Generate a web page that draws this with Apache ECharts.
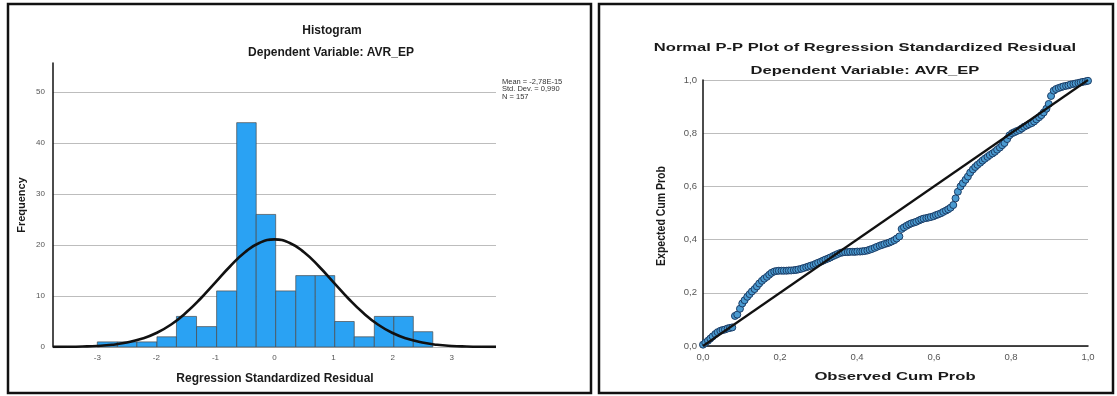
<!DOCTYPE html>
<html><head><meta charset="utf-8">
<script src="https://cdn.jsdelivr.net/npm/echarts@6/dist/echarts.min.js"></script>
<style>html,body{margin:0;padding:0;background:#fff}#c{width:1117px;height:396px}</style>
</head><body><div id="c"></div>
<script>
// ---------- Histogram data ----------
const histBinEdges = [-3.0,-2.66,-2.33,-1.99,-1.66,-1.32,-0.98,-0.64,-0.31,0.02,0.36,0.69,1.02,1.35,1.69,2.02,2.35,2.68];
const histCounts   = [1,1,1,2,6,4,11,44,26,11,14,14,5,2,6,6,3];
const histXTicks = [-3,-2,-1,0,1,2,3];
const histYTicks = [0,10,20,30,40,50];
const curveX = [-3.75,-3.5,-3.25,-3,-2.75,-2.5,-2.25,-2,-1.75,-1.5,-1.25,-1,-0.75,-0.5,-0.25,0,0.25,0.5,0.75,1,1.25,1.5,1.75,2,2.25,2.5,2.75,3,3.25,3.5,3.75];
const curveY = [0.02,0.04,0.1,0.21,0.44,0.87,1.6,2.74,4.42,6.7,9.51,12.67,15.84,18.57,20.44,21.1,20.44,18.57,15.84,12.67,9.51,6.7,4.42,2.74,1.6,0.87,0.44,0.21,0.1,0.04,0.02];
const histStats = ["Mean = -2,78E-15","Std. Dev. = 0,990","N = 157"];

// ---------- P-P plot data ----------
const ppObserved = [0.000,0.006,0.013,0.019,0.025,0.032,0.038,0.045,0.051,0.057,0.064,0.070,0.076,0.083,0.089,0.096,0.102,0.108,0.115,0.121,0.127,0.134,0.140,0.146,0.153,0.159,0.166,0.172,0.178,0.185,0.191,0.197,0.204,0.210,0.217,0.223,0.229,0.236,0.242,0.248,0.255,0.261,0.268,0.274,0.280,0.287,0.293,0.299,0.306,0.312,0.318,0.325,0.331,0.338,0.344,0.350,0.357,0.363,0.369,0.376,0.382,0.389,0.395,0.401,0.408,0.414,0.420,0.427,0.433,0.439,0.446,0.452,0.459,0.465,0.471,0.478,0.484,0.490,0.497,0.503,0.510,0.516,0.522,0.529,0.535,0.541,0.548,0.554,0.561,0.567,0.573,0.580,0.586,0.592,0.599,0.605,0.611,0.618,0.624,0.631,0.637,0.643,0.650,0.656,0.662,0.669,0.675,0.682,0.688,0.694,0.701,0.707,0.713,0.720,0.726,0.732,0.739,0.745,0.752,0.758,0.764,0.771,0.777,0.783,0.790,0.796,0.803,0.809,0.815,0.822,0.828,0.834,0.841,0.847,0.854,0.860,0.866,0.873,0.879,0.885,0.892,0.898,0.904,0.911,0.917,0.924,0.930,0.936,0.943,0.949,0.955,0.962,0.968,0.975,0.981,0.987,0.994,1.000];
const ppExpected = [0.005,0.012,0.020,0.028,0.036,0.045,0.052,0.057,0.060,0.062,0.066,0.068,0.070,0.113,0.118,0.140,0.160,0.172,0.185,0.195,0.205,0.214,0.224,0.235,0.245,0.253,0.260,0.268,0.275,0.280,0.282,0.283,0.283,0.283,0.283,0.284,0.284,0.285,0.286,0.288,0.290,0.293,0.296,0.299,0.302,0.305,0.309,0.313,0.317,0.321,0.325,0.329,0.333,0.338,0.342,0.346,0.350,0.352,0.353,0.353,0.354,0.354,0.354,0.355,0.355,0.356,0.357,0.359,0.362,0.365,0.369,0.373,0.377,0.380,0.383,0.386,0.389,0.393,0.398,0.404,0.412,0.440,0.446,0.452,0.457,0.461,0.464,0.467,0.472,0.476,0.479,0.481,0.483,0.485,0.488,0.492,0.495,0.499,0.504,0.509,0.514,0.520,0.530,0.555,0.580,0.600,0.612,0.625,0.637,0.652,0.664,0.673,0.681,0.689,0.697,0.704,0.711,0.718,0.724,0.730,0.738,0.746,0.755,0.763,0.778,0.792,0.800,0.804,0.808,0.812,0.818,0.824,0.829,0.834,0.838,0.844,0.852,0.860,0.868,0.878,0.892,0.910,0.940,0.960,0.966,0.970,0.973,0.976,0.978,0.980,0.983,0.985,0.987,0.989,0.991,0.993,0.995,0.997];
const ppTicks = [0,0.2,0.4,0.6,0.8,1.0];
const refLine = [[0,0],[1,1]];

const FONT = '"Liberation Sans", Arial, sans-serif';
const chart = echarts.init(document.getElementById('c'), null, {renderer:'canvas'});

const barData = histCounts.map((c,i)=>[histBinEdges[i], histBinEdges[i+1], c]);
const curveData = curveX.map((x,i)=>[x, curveY[i]]);
const ppData = ppObserved.map((x,i)=>[x, ppExpected[i]]);
const comma = v => v.toFixed(1).replace('.', ',');

const bold = (text, x, y, size, rot, sx, sy) => ({
  type:'text', x:x, y:y, rotation: rot||0, scaleX: sx||1, scaleY: sy||1,
  style:{text:text, font:'bold '+size+'px '+FONT, fill:'#1a1a1a', textAlign:'center', textVerticalAlign:'middle'}
});

chart.setOption({
  animation:false,
  backgroundColor:'#fff',
  textStyle:{fontFamily:FONT},
  graphic:[
    {type:'rect', shape:{x:8,y:4,width:583,height:389}, style:{fill:'none', stroke:'#111', lineWidth:2.5}},
    {type:'rect', shape:{x:599,y:4,width:514,height:389}, style:{fill:'none', stroke:'#111', lineWidth:2.5}},
    bold('Histogram', 332, 31, 12),
    bold('Dependent Variable: AVR_EP', 331, 53, 12),
    bold('Frequency', 22, 205, 11, Math.PI/2),
    bold('Regression Standardized Residual', 275, 379, 12),
    {type:'text', x:502, y:78, style:{text:histStats.join('\n'), font:'7.5px '+FONT, fill:'#333', lineHeight:7.5}},
    bold('Normal P-P Plot of Regression Standardized Residual', 865, 48, 11.5, 0, 1.44, 1),
    bold('Dependent Variable: AVR_EP', 865, 71, 11.5, 0, 1.44, 1),
    bold('Expected Cum Prob', 661, 216, 10.5, Math.PI/2, 1, 1.3),
    bold('Observed Cum Prob', 895, 377, 11.5, 0, 1.45, 1)
  ],
  grid:[
    {left:53, top:63, width:443, height:284},
    {left:703, top:80, width:385, height:266}
  ],
  xAxis:[
    {gridIndex:0, type:'value', min:-3.75, max:3.75,
     axisLine:{show:false, onZero:false},
     axisTick:{show:false, customValues:histXTicks},
     axisLabel:{customValues:histXTicks, fontSize:8, color:'#555', margin:7},
     splitLine:{show:false}},
    {gridIndex:1, type:'value', min:0, max:1, interval:0.2,
     axisLine:{show:true, onZero:false, lineStyle:{color:'#111', width:1.5}},
     axisTick:{show:false},
     axisLabel:{fontSize:9.5, color:'#555', margin:6, formatter:comma},
     splitLine:{show:false}}
  ],
  yAxis:[
    {gridIndex:0, type:'value', min:0, max:55.7,
     axisLine:{show:true, onZero:false, lineStyle:{color:'#111', width:1.5}},
     axisTick:{show:false, customValues:histYTicks},
     axisLabel:{customValues:histYTicks, fontSize:8, color:'#555', margin:8},
     splitLine:{show:true, lineStyle:{color:'#bdbdbd', width:1}}},
    {gridIndex:1, type:'value', min:0, max:1, interval:0.2,
     axisLine:{show:true, onZero:false, lineStyle:{color:'#111', width:1.5}},
     axisTick:{show:false},
     axisLabel:{fontSize:9.5, color:'#555', margin:6, formatter:comma},
     splitLine:{show:true, lineStyle:{color:'#bdbdbd', width:1}}}
  ],
  series:[
    {type:'custom', xAxisIndex:0, yAxisIndex:0, data:barData,
     encode:{x:[0,1], y:2},
     renderItem:(params, api)=>{
       const p0 = api.coord([api.value(0), 0]);
       const p1 = api.coord([api.value(1), api.value(2)]);
       return {type:'rect', shape:{x:p0[0], y:p1[1], width:p1[0]-p0[0], height:p0[1]-p1[1]},
         style:{fill:'#2aa2f3', stroke:'#4a4a4a', lineWidth:0.7}};
     }},
    {type:'line', xAxisIndex:0, yAxisIndex:0, data:curveData, smooth:true, symbol:'none',
     lineStyle:{color:'#111', width:2.6}, z:5},
    {type:'scatter', xAxisIndex:1, yAxisIndex:1, data:ppData, symbolSize:7,
     itemStyle:{color:'#4a9ad0', borderColor:'#1c3d66', borderWidth:1, opacity:1}},
    {type:'line', xAxisIndex:1, yAxisIndex:1, data:refLine, symbol:'none',
     lineStyle:{color:'#111', width:2.2}, z:5}
  ]
});
</script>
</body></html>
